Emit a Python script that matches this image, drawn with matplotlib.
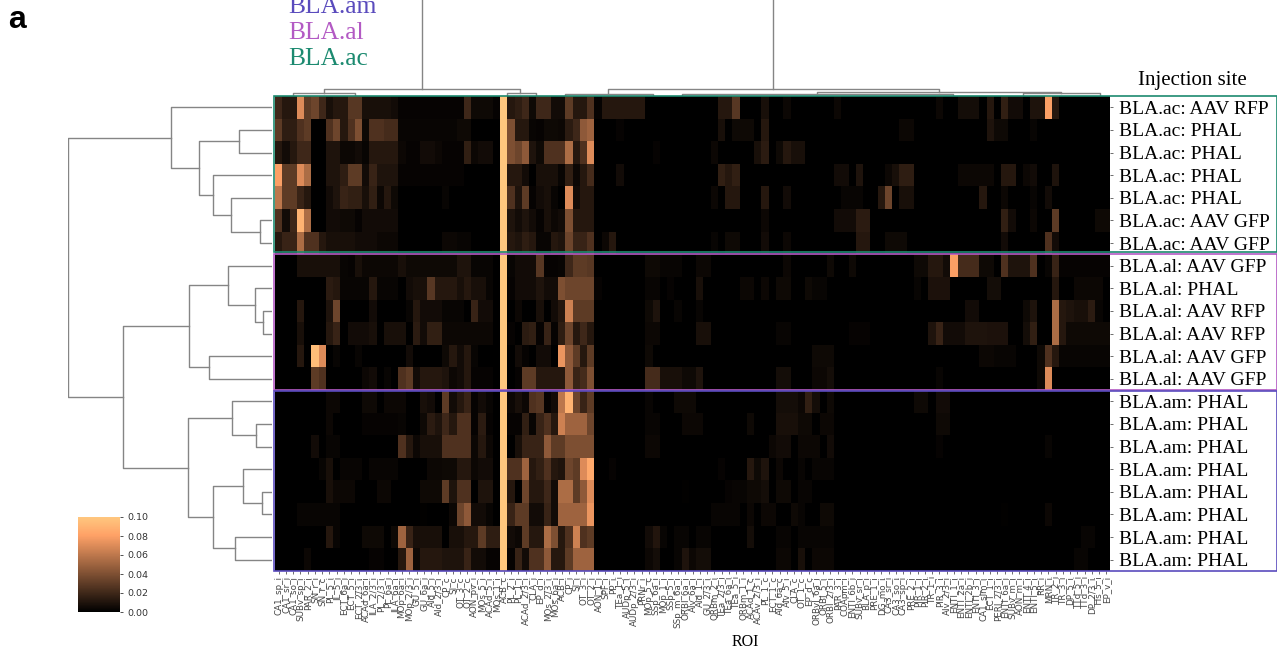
import numpy as np
import matplotlib
matplotlib.use('Agg')
import matplotlib.pyplot as plt
from matplotlib.patches import Rectangle

W, H = 1277, 651

row_labels = ['BLA.ac: AAV RFP', 'BLA.ac: PHAL', 'BLA.ac: PHAL', 'BLA.ac: PHAL', 'BLA.ac: PHAL',
              'BLA.ac: AAV GFP', 'BLA.ac: AAV GFP',
              'BLA.al: AAV GFP', 'BLA.al: PHAL', 'BLA.al: AAV RFP', 'BLA.al: AAV RFP',
              'BLA.al: AAV GFP', 'BLA.al: AAV GFP',
              'BLA.am: PHAL', 'BLA.am: PHAL', 'BLA.am: PHAL', 'BLA.am: PHAL',
              'BLA.am: PHAL', 'BLA.am: PHAL', 'BLA.am: PHAL', 'BLA.am: PHAL']

roi_labels = ['CA1_sp_i', 'CA1_sr_i', 'CA1_so_i', 'SUBv_sp_i', 'PAR_2_i', 'SN_r_i', 'SN_r_c', 'PL_5_i', 'IL_5_i',
              'ECT_6a_i', 'ECT_5_i', 'ECT_2/3_i', 'ACAd_6a_i', 'ILA_2/3_i', 'PL_2/3_i', 'PL_6a_i', 'ILA_6a_i',
              'MOp_6a_i', 'MOp_2/3_i', 'GU_5_i', 'GU_6a_i', 'AId_5_i', 'AId_2/3_i', 'CP_c', 'SI_c',
              'OT_3_c', 'OT_2_c', 'AON_pv_i', 'MOs_5_i', 'ACAd_5_i', 'MOs_1_i', 'ACB_c', 'PL_2_i', 'PL_1_i',
              'ACAd_2/3_i', 'CLA_i', 'EP_d_i', 'MOs_2/3_i', 'MOs_6a_i', 'ACB_i', 'CP_i', 'SI_i', 'OT_3_i',
              'OT_2_i', 'AON_1_i', 'SPF_i', 'PP_i', 'TEa_1_i', 'AUDp_5_i', 'AUDp_2/3_i', 'PRNr_i', 'MOp_5_c',
              'SSp_6a_i', 'MOp_1_i', 'SSp_5_i', 'SSp_m_6a_i', 'ORBl_6a_i', 'AIv_6a_i', 'AId_1_i', 'GU_2/3_i',
              'ORBm_2_i', 'TEa_2/3_i', 'TEa_6a_i', 'TEa_5_i', 'ORBm_1_i', 'ACAd_1_c', 'ACAv_2/3_i', 'PL_1_c',
              'ECT_1_c', 'AId_6a_c', 'AIv_5_i', 'CLA_c', 'OT_1_c', 'EP_d_c', 'ORBvl_6a_i', 'ORBl_5_i',
              'ORBl_2/3_i', 'PAR_3_i', 'COApm_i', 'ENTl_6b_i', 'SUBv_sr_i', 'BLA_p_i', 'PRE_1_i', 'DG_mo_i',
              'CA3_sr_i', 'CA3_so_i', 'CA3_sp_i', 'PRE_2_i', 'PIR_1_i', 'PIR_2_i', 'TR_1_i', 'PIR_3_i',
              'AIv_2/3_i', 'ENTl_1_i', 'ENTl_2a_i', 'ENTl_2b_i', 'ENTl_3_i', 'CA1_slm_i', 'ECT_1_i', 'PERI_2/3_i',
              'ENTl_6a_i', 'SUBv_m_i', 'AON_m_i', 'ENTl_4_i', 'ENTl_5_i', 'RR_i', 'MRN_i', 'TR_2_i', 'TR_3_i',
              'DP_5_i', 'TTd_5_i', 'TTd_3_i', 'DP_2/3_i', 'TTs_5_i', 'EP_v_i']

# values read by eye in 1/1000, column: value, everything else ~0
ac_1 = {0: 20, 1: 12, 2: 12, 3: 70, 4: 30, 5: 35, 6: 20, 7: 8, 8: 12, 9: 12, 10: 28, 11: 28, 12: 8, 13: 8, 14: 8, 15: 8, 16: 6,
        17: 2, 18: 2, 19: 2, 20: 2, 21: 2, 22: 2, 23: 2, 24: 2, 25: 2, 26: 20, 27: 5, 28: 5, 29: 5, 30: 2,
        32: 12, 33: 15, 34: 20, 35: 5, 36: 20, 37: 20, 38: 6, 39: 6, 40: 30, 41: 12, 42: 12, 43: 25, 44: 2, 45: 12,
        46: 12, 47: 12, 48: 12, 49: 12, 50: 12, 61: 12, 62: 12, 63: 28, 67: 8, 70: 4, 77: 4, 91: 4, 94: 7, 95: 7,
        96: 7, 98: 12, 100: 16, 101: 6, 102: 6, 104: 10, 105: 10, 106: 80, 107: 12}
ac_2 = {0: 30, 1: 15, 2: 15, 3: 25, 4: 30, 7: 25, 8: 35, 9: 12, 10: 25, 11: 40, 12: 5, 13: 25, 14: 25, 15: 22, 16: 22,
        17: 3, 18: 3, 19: 3, 20: 3, 21: 3, 22: 3, 23: 3, 24: 3, 25: 5, 26: 5, 32: 40, 33: 12, 34: 12, 35: 3, 36: 2,
        37: 5, 38: 5, 39: 4, 40: 14, 41: 20, 42: 45, 43: 50, 47: 2, 61: 8, 63: 5, 64: 5, 65: 5, 67: 12, 86: 4, 87: 4,
        98: 10, 99: 5, 100: 5, 104: 3}
ac_3 = {0: 12, 1: 6, 2: 12, 3: 20, 4: 20, 7: 10, 8: 10, 9: 4, 10: 4, 11: 6, 12: 3, 13: 12, 14: 12, 15: 12, 16: 12, 17: 4,
        18: 2, 19: 2, 20: 6, 21: 6, 22: 4, 23: 2, 24: 2, 25: 2, 26: 16, 27: 4, 28: 6, 29: 6, 32: 40, 33: 35, 34: 45,
        35: 10, 36: 5, 37: 25, 38: 25, 39: 25, 40: 55, 41: 12, 42: 25, 43: 70, 52: 2, 60: 4, 66: 8, 67: 14, 69: 5,
        70: 12, 71: 8, 72: 8}
ac_4 = {0: 80, 1: 30, 2: 30, 3: 70, 4: 55, 7: 10, 8: 10, 9: 15, 10: 30, 11: 30, 12: 6, 13: 18, 14: 10, 15: 10, 16: 10,
        17: 2, 18: 2, 19: 2, 20: 2, 21: 2, 22: 2, 23: 2, 24: 2, 25: 2, 32: 12, 33: 12, 34: 6, 36: 8, 37: 8, 38: 8, 39: 3,
        40: 16, 41: 4, 42: 12, 43: 22, 47: 6, 61: 16, 62: 12, 63: 16, 77: 6, 78: 6, 80: 10, 84: 4, 85: 8, 86: 15, 87: 15,
        94: 4, 95: 4, 96: 4, 97: 4, 98: 4, 100: 12, 101: 12, 103: 4, 104: 6, 107: 10}
ac_5 = {0: 60, 1: 30, 2: 30, 3: 18, 4: 12, 7: 6, 8: 10, 9: 18, 10: 16, 11: 16, 12: 8, 13: 16, 14: 4, 15: 12, 16: 5, 23: 3,
        32: 25, 33: 10, 34: 30, 35: 2, 36: 6, 37: 8, 38: 3, 40: 70, 41: 6, 42: 12, 43: 12, 60: 4, 62: 12, 63: 12, 67: 12,
        70: 6, 78: 3, 79: 3, 80: 3, 83: 12, 84: 35, 86: 8, 87: 8, 97: 12, 100: 4, 104: 3, 106: 6}
ac_6 = {0: 25, 1: 6, 2: 20, 3: 90, 4: 55, 7: 6, 8: 6, 9: 5, 10: 5, 11: 2, 12: 6, 13: 6, 14: 6, 15: 6, 16: 6, 32: 10, 33: 6,
        34: 10, 35: 6, 36: 2, 37: 8, 38: 4, 39: 6, 40: 40, 41: 12, 42: 12, 43: 12, 67: 4, 77: 6, 78: 6, 79: 6, 80: 14,
        81: 14, 100: 16, 101: 6, 104: 4, 107: 30, 113: 5, 114: 5}
ac_7 = {0: 12, 1: 18, 2: 18, 3: 55, 4: 25, 5: 25, 6: 12, 7: 8, 8: 8, 9: 8, 10: 8, 11: 6, 12: 6, 13: 6, 14: 4, 15: 4, 16: 4,
        23: 4, 24: 4, 25: 3, 26: 3, 32: 12, 33: 10, 34: 15, 35: 12, 36: 3, 37: 3, 38: 12, 39: 10, 40: 35, 41: 18, 42: 18,
        43: 25, 45: 4, 46: 12, 60: 3, 62: 5, 63: 5, 67: 6, 70: 4, 80: 12, 81: 12, 84: 5, 85: 5, 86: 5, 100: 6, 106: 25,
        107: 6}
al_1 = {3: 8, 4: 8, 5: 8, 6: 8, 7: 8, 8: 8, 9: 3, 10: 2, 11: 8, 12: 4, 13: 4, 14: 4, 15: 4, 16: 4, 17: 8, 18: 5, 19: 5, 20: 5,
        21: 5, 22: 5, 23: 5, 24: 5, 25: 10, 26: 10, 27: 3, 28: 3, 29: 3, 32: 3, 33: 6, 34: 6, 35: 6, 36: 28, 37: 2, 38: 2,
        39: 3, 40: 20, 41: 30, 42: 30, 43: 28, 51: 5, 52: 5, 53: 3, 54: 3, 55: 3, 58: 4, 59: 4, 70: 4, 76: 5, 79: 5,
        88: 5, 89: 5, 90: 12, 91: 12, 92: 6, 93: 80, 94: 22, 95: 22, 96: 22, 97: 5, 98: 5, 100: 25, 101: 10, 102: 10,
        103: 10, 104: 25, 106: 3, 107: 18, 108: 2, 109: 2, 110: 2, 111: 2, 112: 2, 113: 2, 114: 2}
al_2 = {7: 14, 8: 12, 9: 3, 10: 3, 11: 3, 12: 3, 13: 12, 14: 3, 15: 3, 16: 3, 18: 6, 19: 8, 20: 8, 21: 28, 22: 12, 23: 12,
        24: 12, 25: 8, 26: 12, 27: 8, 28: 8, 29: 3, 32: 2, 33: 6, 34: 6, 35: 6, 36: 10, 37: 6, 38: 6, 39: 40, 40: 35,
        41: 35, 42: 35, 43: 35, 44: 2, 51: 3, 52: 3, 54: 2, 58: 8, 64: 4, 65: 4, 67: 4, 69: 5, 70: 5, 73: 5, 74: 3, 75: 3,
        88: 3, 90: 9, 91: 9, 92: 9, 98: 7, 99: 7, 107: 12, 110: 4, 111: 4, 112: 4, 113: 4}
al_3 = {3: 12, 7: 10, 8: 35, 13: 6, 18: 3, 19: 12, 20: 6, 21: 6, 22: 6, 23: 3, 24: 3, 25: 3, 27: 18, 28: 6, 29: 6, 33: 4,
        36: 8, 38: 6, 39: 12, 40: 65, 41: 30, 42: 30, 43: 30, 51: 5, 52: 10, 55: 3, 58: 3, 95: 6, 96: 6, 103: 5, 104: 10,
        107: 55, 108: 12, 109: 10, 110: 8, 111: 8, 112: 14, 113: 3}
al_4 = {3: 8, 7: 12, 8: 18, 10: 6, 11: 6, 12: 6, 13: 8, 15: 8, 16: 8, 17: 8, 19: 14, 20: 6, 21: 16, 22: 16, 23: 4, 24: 4, 25: 4,
        26: 4, 27: 4, 28: 4, 29: 4, 32: 2, 34: 14, 35: 16, 36: 2, 37: 18, 38: 2, 39: 15, 40: 35, 41: 12, 42: 20, 43: 12,
        51: 4, 52: 4, 58: 8, 59: 8, 69: 3, 70: 3, 79: 2, 80: 2, 81: 2, 90: 10, 91: 18, 92: 6, 93: 6, 94: 6, 95: 10, 96: 10,
        97: 10, 98: 9, 99: 9, 100: 9, 103: 7, 104: 16, 107: 55, 108: 12, 109: 5, 110: 5, 111: 5, 112: 5, 113: 5, 114: 5}
al_5 = {3: 12, 5: 95, 6: 70, 8: 3, 11: 3, 18: 6, 23: 5, 24: 12, 25: 6, 26: 12, 27: 3, 33: 6, 34: 2, 36: 6, 37: 6, 39: 75, 40: 45,
        41: 30, 42: 12, 43: 30, 51: 5, 74: 5, 75: 5, 76: 5, 97: 4, 98: 4, 99: 3, 100: 3, 101: 3, 105: 5, 106: 25, 107: 12,
        108: 3, 109: 3, 110: 3, 111: 3, 112: 3, 113: 3, 114: 3}
al_6 = {5: 30, 6: 25, 12: 4, 13: 6, 15: 3, 17: 25, 18: 30, 19: 6, 20: 12, 21: 12, 22: 12, 23: 10, 24: 4, 25: 6, 26: 12, 27: 2,
        28: 2, 29: 2, 33: 2, 34: 30, 35: 30, 36: 12, 37: 12, 38: 12, 39: 12, 40: 45, 41: 18, 42: 22, 43: 40, 51: 22, 52: 22,
        53: 8, 54: 8, 55: 8, 56: 5, 57: 5, 58: 10, 69: 7, 70: 7, 74: 4, 75: 4, 76: 7, 91: 3, 105: 5, 106: 70}
am_1 = {7: 4, 8: 4, 12: 5, 13: 5, 15: 4, 16: 4, 17: 4, 20: 8, 21: 6, 23: 30, 24: 6, 25: 12, 26: 18, 27: 2, 28: 6, 29: 3, 32: 4,
        33: 8, 34: 4, 35: 25, 36: 28, 37: 2, 38: 6, 39: 60, 40: 90, 41: 35, 42: 18, 43: 30, 51: 3, 55: 5, 56: 5, 57: 5, 69: 7,
        70: 7, 71: 7, 72: 4, 73: 16, 74: 7, 76: 5, 88: 5, 89: 5, 91: 6, 92: 6}
am_2 = {7: 4, 12: 2, 13: 2, 14: 2, 15: 2, 16: 2, 17: 3, 20: 5, 21: 14, 22: 10, 23: 20, 24: 12, 25: 25, 26: 25, 27: 2, 28: 14, 29: 2,
        32: 2, 33: 2, 34: 16, 35: 3, 36: 18, 37: 25, 38: 12, 39: 65, 40: 50, 41: 50, 42: 50, 43: 35, 51: 3, 52: 3, 56: 4, 57: 4,
        58: 4, 65: 5, 69: 8, 70: 8, 71: 8, 72: 5, 73: 5, 75: 4, 76: 4, 91: 5, 92: 5}
am_3 = {5: 6, 7: 3, 8: 3, 17: 25, 18: 12, 19: 4, 20: 8, 21: 8, 22: 8, 23: 25, 24: 25, 25: 25, 26: 25, 27: 4, 28: 12, 29: 4,
        33: 8, 34: 18, 35: 18, 36: 18, 37: 45, 38: 30, 39: 30, 40: 40, 41: 40, 42: 40, 43: 40, 51: 4, 52: 4, 68: 4, 69: 6,
        70: 6, 72: 4, 73: 4, 74: 4, 76: 6, 91: 2, 106: 3}
am_4 = {6: 3, 7: 8, 9: 3, 10: 3, 11: 3, 13: 3, 14: 3, 15: 3, 16: 3, 21: 4, 22: 4, 23: 5, 24: 5, 25: 12, 26: 12, 27: 4, 28: 6, 29: 6,
        32: 25, 33: 25, 34: 50, 35: 12, 36: 16, 37: 25, 38: 12, 39: 10, 40: 35, 41: 30, 42: 70, 43: 85, 46: 2, 61: 2, 65: 12,
        66: 5, 67: 10, 69: 4, 72: 3, 74: 3, 75: 3, 76: 3}
am_5 = {7: 8, 8: 4, 9: 4, 10: 4, 14: 4, 15: 4, 20: 5, 21: 5, 22: 5, 23: 30, 24: 10, 25: 25, 26: 25, 28: 10, 29: 10, 32: 12, 34: 35,
        35: 12, 36: 12, 37: 20, 38: 6, 39: 55, 40: 55, 41: 30, 42: 45, 43: 70, 56: 1, 62: 2, 63: 3, 64: 3, 65: 5, 66: 5, 67: 7,
        69: 5, 70: 5, 72: 3, 73: 3}
am_6 = {3: 3, 4: 3, 5: 3, 6: 3, 7: 3, 8: 3, 20: 1, 24: 4, 25: 35, 26: 45, 27: 6, 28: 6, 29: 3, 32: 18, 33: 30, 34: 30, 35: 6, 36: 6,
        37: 18, 38: 6, 39: 50, 40: 50, 41: 50, 42: 50, 43: 75, 60: 3, 61: 3, 62: 3, 63: 3, 65: 4, 67: 4, 68: 4, 71: 5, 72: 3,
        75: 5, 76: 5, 100: 1, 106: 4}
am_7 = {7: 12, 8: 3, 12: 5, 13: 5, 14: 5, 16: 5, 17: 50, 18: 18, 19: 8, 20: 8, 21: 8, 22: 8, 24: 8, 25: 8, 26: 12, 27: 12, 28: 30,
        29: 15, 30: 15, 32: 6, 33: 4, 34: 30, 35: 12, 36: 12, 37: 55, 38: 40, 39: 12, 40: 25, 41: 65, 42: 25, 43: 30, 51: 6,
        52: 11, 53: 3, 55: 3, 56: 3, 58: 3, 59: 3, 65: 7, 69: 3, 70: 3, 72: 3, 73: 3, 74: 3, 75: 3, 76: 3, 111: 3, 112: 3}
am_8 = {4: 4, 13: 2, 14: 2, 17: 12, 18: 50, 19: 5, 20: 12, 21: 12, 22: 12, 23: 10, 24: 10, 25: 10, 26: 18, 27: 6, 28: 6, 29: 2,
        30: 2, 32: 2, 33: 18, 34: 6, 35: 25, 36: 25, 37: 45, 38: 12, 39: 12, 40: 30, 41: 50, 42: 50, 43: 50, 51: 4, 52: 7,
        55: 3, 56: 10, 57: 4, 58: 7, 59: 7, 69: 4, 70: 4, 72: 8, 74: 4, 75: 4, 76: 4, 110: 3, 111: 3}
all_rows = [ac_1, ac_2, ac_3, ac_4, ac_5, ac_6, ac_7, al_1, al_2, al_3, al_4, al_5, al_6,
            am_1, am_2, am_3, am_4, am_5, am_6, am_7, am_8]
bright_col = 31  # saturated in every row

# row dendrogram: (child, child, distance), children >=21 are earlier merges
row_merges = [(1, 2, .16), (5, 6, .06), (4, 22, .20), (3, 23, .29), (21, 24, .36), (0, 25, .495),
              (9, 10, .044), (8, 27, .085), (7, 28, .215), (11, 12, .31), (29, 30, .405),
              (14, 15, .08), (13, 32, .197), (17, 18, .05), (16, 34, .144), (19, 20, .18),
              (35, 36, .29), (33, 37, .41), (31, 38, .728), (26, 39, 1.0)]

# column dendrogram, only upper links show above the heatmap
# (left col, left height, right col, right height, height)
col_links = [(20.25, 7, 68.6, 7.5, 130), (6.75, 3, 33.75, 3, 7), (2.5, 1, 11, 1, 3), (32, 1, 36, 1, 3),
             (45.9, 2.5, 91.5, 4.5, 7.5), (74.7, 2, 108.3, 3, 4.5), (40, 1, 52, 1, 2.5), (56, 1, 93.4, 1, 2),
             (103, 1, 113.6, 1, 3)]

green = '#1c8a70'
magenta = '#b35ac4'
blue = '#5a4bbd'
line_grey = '#858585'


def px_axes(x0, y0, x1, y1):
    return fig.add_axes([x0 / W, 1 - y1 / H, (x1 - x0) / W, (y1 - y0) / H])


fig = plt.figure(figsize=(W / 100, H / 100), dpi=100)

mat = np.zeros((len(all_rows), len(roi_labels)))
for i, r in enumerate(all_rows):
    for c, v in r.items():
        mat[i, c] = v / 1000
mat[:, bright_col] = 0.1

ax = px_axes(275, 96, 1110, 571)
im = ax.imshow(mat, aspect='auto', cmap='copper', vmin=0, vmax=0.1, interpolation='nearest')
ax.set_xticks(range(len(roi_labels)))
ax.set_xticklabels(roi_labels, rotation=90, fontsize=6.3, color='#444444')
ax.set_yticks(range(len(row_labels)))
ax.set_yticklabels(row_labels, fontsize=14, family='Liberation Serif', color='black')
ax.yaxis.tick_right()
ax.tick_params(axis='x', length=2.2, width=.6, pad=1.5, color='#555555')
ax.tick_params(axis='y', length=2.2, width=.6, pad=4.3, color='#555555')
for s in ax.spines.values():
    s.set_visible(False)

# row dendrogram
ax_r = px_axes(68, 96, 272, 571)
nodes = {i: (i, 0.0) for i in range(len(row_labels))}
next_id = len(row_labels)
for a, b, d in row_merges:
    ya, ha = nodes[a]
    yb, hb = nodes[b]
    ax_r.plot([ha, d, d, hb], [ya, ya, yb, yb], color=line_grey, lw=1)
    nodes[next_id] = ((ya + yb) / 2, d)
    next_id += 1
ax_r.set_xlim(1.0, 0)
ax_r.set_ylim(len(row_labels) - .5, -.5)
ax_r.axis('off')

# column dendrogram, positions here count from the heatmap's left edge
ax_c = px_axes(275, 0, 1110, 96)
for xl, hl, xr, hr, d in col_links:
    ax_c.plot([xl, xl, xr, xr], [hl, d, d, hr], color=line_grey, lw=1)
ax_c.set_xlim(0, len(roi_labels))
ax_c.set_ylim(0, 96)
ax_c.axis('off')

# colorbar
cax = px_axes(78, 517, 120, 612)
cb = fig.colorbar(im, cax=cax)
cb.set_ticks([0, .02, .04, .06, .08, .1])
cb.ax.tick_params(labelsize=6.8, length=2.2, width=.6, pad=3, colors='#333333')
cb.outline.set_visible(False)

# coloured group boxes run out under the row labels
for y0, y1, col in [(96, 252, green), (254, 390, magenta), (391, 571, blue)]:
    fig.add_artist(Rectangle((274 / W, 1 - y1 / H), (1277 - 274) / W, (y1 - y0) / H, transform=fig.transFigure,
                             fill=False, edgecolor=col, lw=1.2))

serif = dict(family='Liberation Serif', ha='left', va='baseline')
fig.text(288 / W, 1 - 13 / H, 'BLA.am', fontsize=18.4, color=blue, **serif)
fig.text(288 / W, 1 - 39 / H, 'BLA.al', fontsize=18.4, color=magenta, **serif)
fig.text(288 / W, 1 - 65 / H, 'BLA.ac', fontsize=18.4, color=green, **serif)
fig.text(1138 / W, 1 - 85 / H, 'Injection site', fontsize=15, color='black', **serif)
fig.text(745 / W, 1 - 642 / H, 'ROI', fontsize=11.5, color='black', family='Liberation Serif', ha='center', va='center')
fig.text(8 / W, 1 - 28 / H, 'a', fontsize=23, fontweight='bold', family='Liberation Sans', color='black')

fig.savefig('out.png', dpi=100)
